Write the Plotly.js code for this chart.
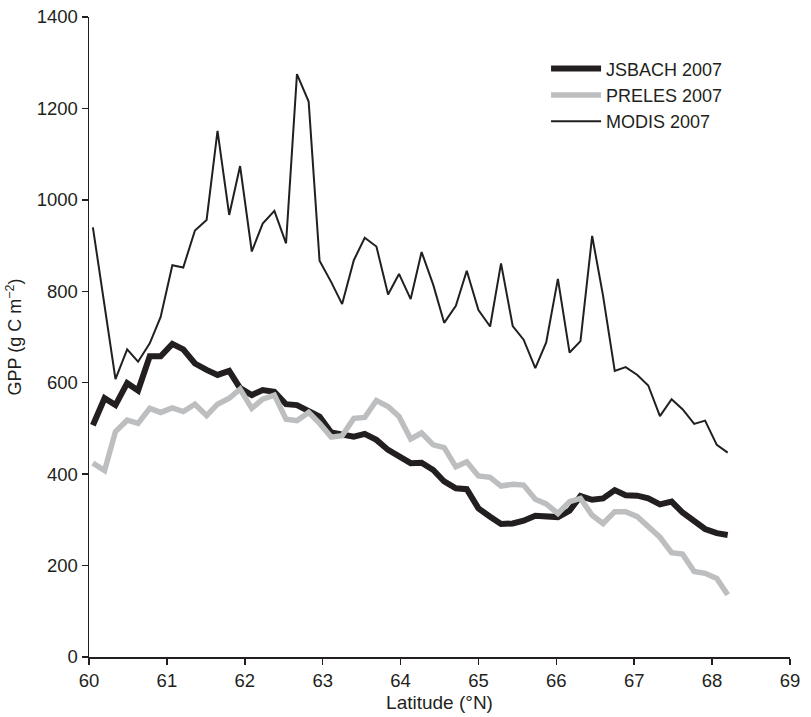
<!DOCTYPE html>
<html>
<head>
<meta charset="utf-8">
<script src="https://cdn.plot.ly/plotly-3.0.1.min.js"></script>
<style>html,body{margin:0;padding:0;background:#fff;}#chart{width:811px;height:717px;}</style>
</head>
<body>
<div id="chart"></div>
<script>
// Latitude (°N) of each sample
const latitude = [60.05,60.20,60.34,60.49,60.63,60.78,60.92,61.07,61.21,61.36,
  61.51,61.65,61.80,61.94,62.09,62.23,62.38,62.53,62.67,62.82,
  62.96,63.11,63.25,63.40,63.54,63.69,63.84,63.98,64.13,64.27,
  64.42,64.56,64.71,64.85,65.00,65.15,65.29,65.44,65.58,65.73,
  65.87,66.02,66.17,66.31,66.46,66.60,66.75,66.89,67.04,67.18,
  67.33,67.48,67.62,67.77,67.91,68.06,68.20];

// GPP (g C m-2)
const jsbach2007 = [507,566,551,599,583,658,658,685,673,642,
  628,617,626,588,573,584,580,553,551,538,
  526,491,486,482,488,475,453,438,424,425,
  409,384,369,367,325,307,291,292,298,309,
  308,306,320,352,344,347,365,354,353,347,
  334,340,316,296,280,271,267];

const preles2007 = [424,408,493,518,511,544,535,545,537,553,
  528,553,566,586,544,564,573,520,517,535,
  511,481,484,522,524,561,548,526,477,490,
  464,458,416,427,396,393,374,378,376,345,
  335,314,340,347,310,292,318,318,307,287,
  262,228,225,187,183,172,136];

const modis2007 = [940,null,608,673,646,686,744,857,852,933,
  956,1151,967,1074,887,948,976,905,1275,1215,
  867,820,772,868,917,898,793,838,783,886,
  814,731,768,845,759,723,861,724,694,632,
  688,827,666,691,921,790,626,634,617,594,
  527,564,542,510,517,464,447];

const seriesNames = ['JSBACH 2007','PRELES 2007','MODIS 2007'];
const xTicks = [60,61,62,63,64,65,66,67,68,69];
const yTicks = [0,200,400,600,800,1000,1200,1400];

const ink = '#231f20';
const fontFam = 'Liberation Sans, Arial, Helvetica, sans-serif';

const traces = [
  {x: latitude, y: jsbach2007, name: seriesNames[0], mode: 'lines',
   line: {color: ink, width: 6}, connectgaps: true},
  {x: latitude, y: preles2007, name: seriesNames[1], mode: 'lines',
   line: {color: '#bcbec0', width: 5.5}, connectgaps: true},
  {x: latitude, y: modis2007, name: seriesNames[2], mode: 'lines',
   line: {color: ink, width: 2}, connectgaps: true}
];

const layout = {
  width: 811, height: 717,
  margin: {l: 89, r: 21, t: 17, b: 60, pad: 0},
  paper_bgcolor: '#fff', plot_bgcolor: '#fff',
  font: {family: fontFam, size: 18, color: ink},
  showlegend: true,
  legend: {x: 0.652, y: 0.948, xanchor: 'left', yanchor: 'top',
    bgcolor: 'rgba(0,0,0,0)', font: {size: 18, color: ink},
    itemwidth: 50, tracegroupgap: 0},
  xaxis: {
    range: [60, 69], tickvals: xTicks, ticktext: xTicks.map(String),
    showgrid: false, zeroline: false, showline: true, linecolor: ink, linewidth: 1.5,
    ticks: 'outside', ticklen: 6, tickwidth: 1.5, tickcolor: ink,
    tickfont: {size: 18.5, color: ink},
    title: {text: 'Latitude (°N)', font: {size: 19, color: ink}, standoff: 6}
  },
  yaxis: {
    range: [0, 1400], tickvals: yTicks, ticktext: yTicks.map(String),
    showgrid: false, zeroline: false, showline: true, linecolor: ink, linewidth: 1.5,
    ticks: 'outside', ticklen: 6, tickwidth: 1.5, tickcolor: ink,
    tickfont: {size: 18.5, color: ink},
    title: {text: 'GPP (g C m<sup>−2</sup>)', font: {size: 18, color: ink}, standoff: 10}
  }
};

Plotly.newPlot('chart', traces, layout, {displayModeBar: false, staticPlot: true});
</script>
</body>
</html>
